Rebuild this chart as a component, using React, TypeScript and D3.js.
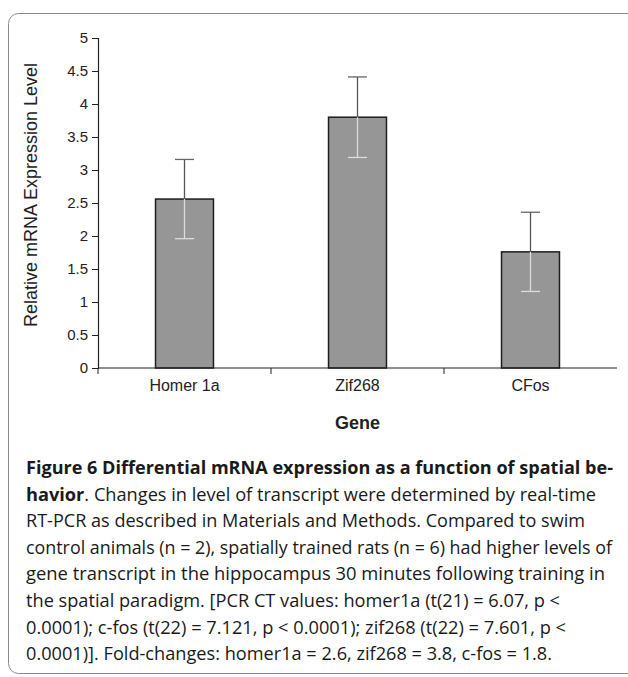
import React, { useEffect, useRef } from "react";
import * as d3 from "d3";

const genes = ["Homer 1a", "Zif268", "CFos"];
const means = [2.56, 3.8, 1.76];
const errors = [0.6, 0.61, 0.6];
const yTicks = [0, 0.5, 1, 1.5, 2, 2.5, 3, 3.5, 4, 4.5, 5];

const captionLines = [
  [{ t: "Figure 6 Differential mRNA expression as a function of spatial be-", b: true }],
  [
    { t: "havior", b: true },
    { t: ". Changes in level of transcript were determined by real-time", b: false },
  ],
  [{ t: "RT-PCR as described in Materials and Methods. Compared to swim", b: false }],
  [{ t: "control animals (n = 2), spatially trained rats (n = 6) had higher levels of", b: false }],
  [{ t: "gene transcript in the hippocampus 30 minutes following training in", b: false }],
  [{ t: "the spatial paradigm. [PCR CT values: homer1a (t(21) = 6.07, p <", b: false }],
  [{ t: "0.0001); c-fos (t(22) = 7.121, p < 0.0001); zif268 (t(22) = 7.601, p <", b: false }],
  [{ t: "0.0001)]. Fold-changes: homer1a = 2.6, zif268 = 3.8, c-fos = 1.8.", b: false }],
];
const captionWidths = [587, 570, 559, 586, 579, 534, 540, 526];

const App = () => {
  const svgRef = useRef(null);

  useEffect(() => {
    const svg = d3.select(svgRef.current);
    svg.selectAll("*").remove();

    const W = 628;
    const H = 677;
    const margin = { top: 38, left: 98, right: 11, bottom: 309 };
    const plotW = W - margin.left - margin.right;
    const plotH = H - margin.top - margin.bottom;

    // panel border
    svg
      .append("rect")
      .attr("x", 8.5)
      .attr("y", 13.5)
      .attr("width", 640)
      .attr("height", 660)
      .attr("rx", 10)
      .attr("fill", "white")
      .attr("stroke", "#8a8a8a")
      .attr("stroke-width", 1);

    const g = svg
      .append("g")
      .attr("transform", `translate(${margin.left},${margin.top})`);

    const x = d3
      .scaleBand()
      .domain(genes)
      .range([0, plotW])
      .paddingInner(0.665)
      .paddingOuter(0.3325);
    const xOuter = d3.scaleBand().domain(genes).range([0, plotW]);
    const y = d3.scaleLinear().domain([0, 5]).range([plotH, 0]);

    const font = "'Liberation Sans', Arial, sans-serif";

    // y axis
    const yAxis = g
      .append("g")
      .call(
        d3
          .axisLeft(y)
          .tickValues(yTicks)
          .tickSize(6)
          .tickPadding(4)
          .tickFormat((d) => String(d))
      );
    yAxis.select(".domain").attr("stroke", "#222").attr("stroke-width", 1.2);
    yAxis.selectAll(".tick line").attr("stroke", "#222");
    yAxis
      .selectAll(".tick text")
      .attr("fill", "#222")
      .style("font-family", font)
      .style("font-size", "15px");

    // bars
    g.selectAll("rect.bar")
      .data(genes)
      .join("rect")
      .attr("class", "bar")
      .attr("x", (d) => x(d))
      .attr("y", (d, i) => y(means[i]))
      .attr("width", x.bandwidth())
      .attr("height", (d, i) => plotH - y(means[i]))
      .attr("fill", "#969696")
      .attr("stroke", "#1e1e1e")
      .attr("stroke-width", 1.5);

    // error bars: dark above the bar, light inside it
    const capW = 9.5;
    genes.forEach((gName, i) => {
      const cx = x(gName) + x.bandwidth() / 2;
      const top = y(means[i] + errors[i]);
      const mid = y(means[i]);
      const bot = y(means[i] - errors[i]);
      g.append("line")
        .attr("x1", cx).attr("x2", cx).attr("y1", top).attr("y2", mid)
        .attr("stroke", "#555").attr("stroke-width", 1.3);
      g.append("line")
        .attr("x1", cx - capW).attr("x2", cx + capW).attr("y1", top).attr("y2", top)
        .attr("stroke", "#666").attr("stroke-width", 1.3);
      g.append("line")
        .attr("x1", cx).attr("x2", cx).attr("y1", mid).attr("y2", bot)
        .attr("stroke", "#dcdcdc").attr("stroke-width", 1.3);
      g.append("line")
        .attr("x1", cx - capW).attr("x2", cx + capW).attr("y1", bot).attr("y2", bot)
        .attr("stroke", "#dcdcdc").attr("stroke-width", 1.3);
    });

    // x axis with category-boundary ticks
    const xg = g.append("g").attr("transform", `translate(0,${plotH})`);
    xg.append("line")
      .attr("x1", 0).attr("x2", plotW).attr("y1", 0).attr("y2", 0)
      .attr("stroke", "#222").attr("stroke-width", 1.2);
    genes.forEach((gName) => {
      xg.append("line")
        .attr("x1", xOuter(gName)).attr("x2", xOuter(gName))
        .attr("y1", 0).attr("y2", 6)
        .attr("stroke", "#222");
    });
    xg.selectAll("text.cat")
      .data(genes)
      .join("text")
      .attr("class", "cat")
      .attr("x", (d) => x(d) + x.bandwidth() / 2)
      .attr("y", 23)
      .attr("text-anchor", "middle")
      .attr("fill", "#222")
      .style("font-family", font)
      .style("font-size", "16px")
      .text((d) => d);

    // axis titles
    g.append("text")
      .attr("x", plotW / 2)
      .attr("y", plotH + 61)
      .attr("text-anchor", "middle")
      .attr("fill", "#222")
      .style("font-family", font)
      .style("font-size", "18px")
      .style("font-weight", "bold")
      .text("Gene");

    svg
      .append("text")
      .attr("transform", `translate(37,${margin.top + plotH / 2 - 8}) rotate(-90)`)
      .attr("text-anchor", "middle")
      .attr("fill", "#222")
      .style("font-family", font)
      .style("font-size", "18px")
      .text("Relative mRNA Expression Level");

    // caption
    captionLines.forEach((parts, i) => {
      const t = svg
        .append("text")
        .attr("x", 26)
        .attr("y", 474 + i * 26.6)
        .attr("textLength", captionWidths[i])
        .attr("lengthAdjust", "spacingAndGlyphs")
        .attr("fill", "#1a1a1a")
        .style("font-family", "'Open Sans', 'Noto Sans', sans-serif")
        .style("font-size", "18px");
      parts.forEach((p) => {
        t.append("tspan")
          .style("font-weight", p.b ? "bold" : "normal")
          .text(p.t);
      });
    });
  }, []);

  return (
    <svg
      ref={svgRef}
      width={628}
      height={677}
      style={{ position: "absolute", left: 0, top: 0, background: "white" }}
    />
  );
};

export default App;
